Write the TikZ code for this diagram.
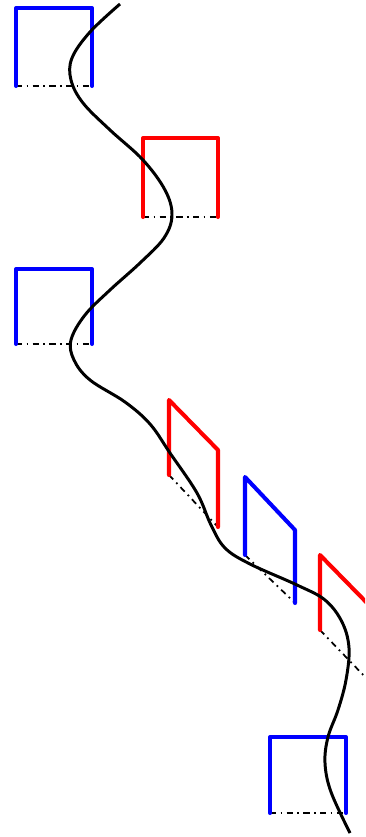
\documentclass[tikz,border=0pt]{standalone}
\usepackage{tikz}
\usetikzlibrary{calc}

\begin{document}
\begin{tikzpicture}[
      x=0.02cm, y=-0.02cm,
      blueframe/.style={draw=blue, line width=2.3pt, line join=round, line cap=round},
      redframe/.style={draw=red, line width=2.3pt, line join=round, line cap=round},
      floorline/.style={draw=black, line width=1pt, dash pattern=on 3.5pt off 2.5pt on 1pt off 2.5pt},
      wave/.style={draw=black, line width=1.7pt, smooth, tension=0.6}]
    \useasboundingbox (0,0) rectangle (365,837);
    \clip (0,0) rectangle (365,837);
    % upright frames
    \draw[floorline] (16,86) -- (92,86);
    \draw[blueframe] (16,86) -- (16,8) -- (92,8) -- (92,86);
    \draw[floorline] (143,217) -- (218,217);
    \draw[redframe] (143,217) -- (143,138) -- (218,138) -- (218,217);
    \draw[floorline] (16,344) -- (92,344);
    \draw[blueframe] (16,344) -- (16,269) -- (92,269) -- (92,344);
    % sheared frames
    \draw[floorline] (169,475) -- (218,527);
    \draw[redframe] (169,475) -- (169,400) -- (218,450) -- (218,527);
    \draw[floorline] (245,555) -- (295,603);
    \draw[blueframe] (245,555) -- (245,477) -- (295,530) -- (295,603);
    \draw[floorline] (320,630) -- (369,681);
    \draw[redframe] (320,630) -- (320,555) -- (369,605) -- (369,681);
    \draw[floorline] (270,813) -- (346,813);
    \draw[blueframe] (270,813) -- (270,737) -- (346,737) -- (346,813);
    % the path
    \draw[wave] plot coordinates {(120,4) (90,32) (72,58) (71,80) (83,103)
      (110,130) (143,160) (165,190) (172,215) (164,238) (140,263) (110,290)
      (85,315) (71,340) (74,360) (90,380) (125,402) (150,424) (170,453)
      (197,493) (211,525) (225,548) (250,564) (297,585) (325,600) (342,622)
      (349,648) (346,680) (338,710) (328,737) (325,763) (331,792) (350,833)};
\end{tikzpicture}
\end{document}
